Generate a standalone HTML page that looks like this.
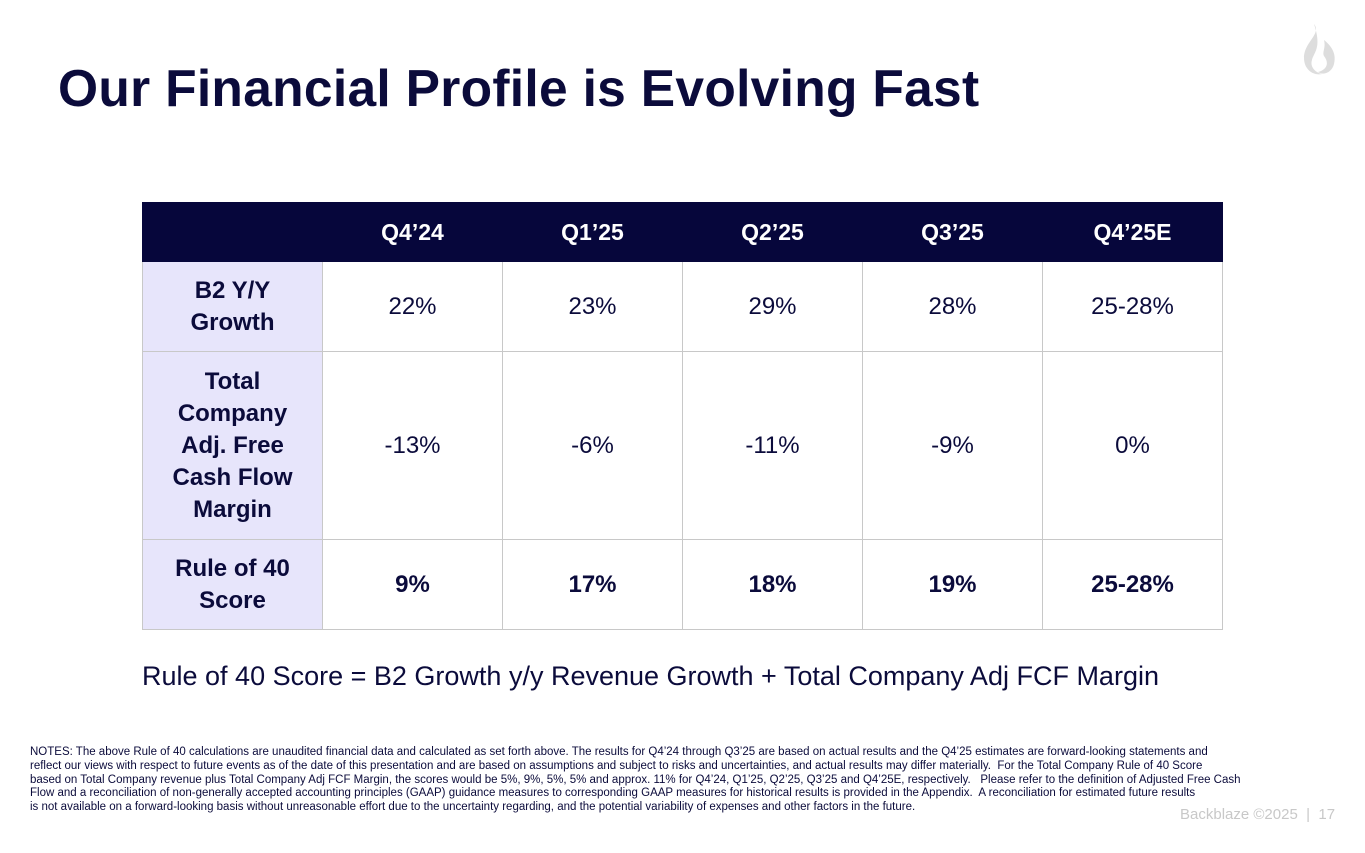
<!DOCTYPE html>
<html><head><meta charset="utf-8"><style>
body{margin:0;width:1365px;height:853px;background:#fff;position:relative;overflow:hidden;font-family:"Liberation Sans",sans-serif;color:#0b0b3b}
#title{position:absolute;left:58px;top:58px;font-size:51.5px;font-weight:bold;margin:0;letter-spacing:0.3px;color:#0b0b3b}
table{position:absolute;left:142px;top:202px;border-collapse:collapse;width:1081px;table-layout:fixed}
td,th{border:1px solid #c8c8c8;text-align:center;font-size:24px;color:#0b0b3b;padding:0}
th{background:#06063b;color:#fff;height:58px;font-weight:bold;font-size:23px;border-color:#06063b}
td.lab{background:#e7e5fb;font-weight:bold;line-height:32px}
td.b{font-weight:bold}
#formula{position:absolute;left:142px;top:661px;font-size:27px;color:#0b0b3b}
#notes{position:absolute;left:30px;top:746px;font-size:11.5px;line-height:13.8px;color:#0b0b3b;white-space:nowrap}
#footer{position:absolute;left:1180px;top:806px;font-size:15px;color:#c8c8c8}
#logo{position:absolute;left:1300px;top:22px}
</style></head><body>
<h1 id="title">Our Financial Profile is Evolving Fast</h1>
<svg id="logo" width="36" height="56" viewBox="0 0 36 56">
<path d="M14 2 C22 12 4 20 4 36 C4 48 14 54 22 52 C14 50 10 44 12 38 C14 30 22 26 14 2Z" fill="#ddd"/>
<path d="M24 18 C34 26 36 34 34 42 C32 50 24 54 18 50 C26 48 30 42 24 34 C22 30 26 26 24 18Z" fill="#ddd"/>
</svg>
<table>
<tr><th></th><th>Q4’24</th><th>Q1’25</th><th>Q2’25</th><th>Q3’25</th><th>Q4’25E</th></tr>
<tr style="height:90px"><td class="lab">B2 Y/Y<br>Growth</td><td>22%</td><td>23%</td><td>29%</td><td>28%</td><td>25-28%</td></tr>
<tr style="height:188px"><td class="lab">Total<br>Company<br>Adj. Free<br>Cash Flow<br>Margin</td><td>-13%</td><td>-6%</td><td>-11%</td><td>-9%</td><td>0%</td></tr>
<tr style="height:90px"><td class="lab">Rule of 40<br>Score</td><td class="b">9%</td><td class="b">17%</td><td class="b">18%</td><td class="b">19%</td><td class="b">25-28%</td></tr>
</table>
<div id="formula">Rule of 40 Score = B2 Growth y/y Revenue Growth + Total Company Adj FCF Margin</div>
<div id="notes">
<div>NOTES: The above Rule of 40 calculations are unaudited financial data and calculated as set forth above. The results for Q4’24 through Q3’25 are based on actual results and the Q4’25 estimates are forward-looking statements and</div>
<div>reflect our views with respect to future events as of the date of this presentation and are based on assumptions and subject to risks and uncertainties, and actual results may differ materially.&nbsp; For the Total Company Rule of 40 Score</div>
<div>based on Total Company revenue plus Total Company Adj FCF Margin, the scores would be 5%, 9%, 5%, 5% and approx. 11% for Q4’24, Q1’25, Q2’25, Q3’25 and Q4’25E, respectively.&nbsp;&nbsp; Please refer to the definition of Adjusted Free Cash</div>
<div>Flow and a reconciliation of non-generally accepted accounting principles (GAAP) guidance measures to corresponding GAAP measures for historical results is provided in the Appendix.&nbsp; A reconciliation for estimated future results</div>
<div>is not available on a forward-looking basis without unreasonable effort due to the uncertainty regarding, and the potential variability of expenses and other factors in the future.</div>
</div>
<div id="footer">Backblaze ©2025 &nbsp;|&nbsp; 17</div>
</body></html>
